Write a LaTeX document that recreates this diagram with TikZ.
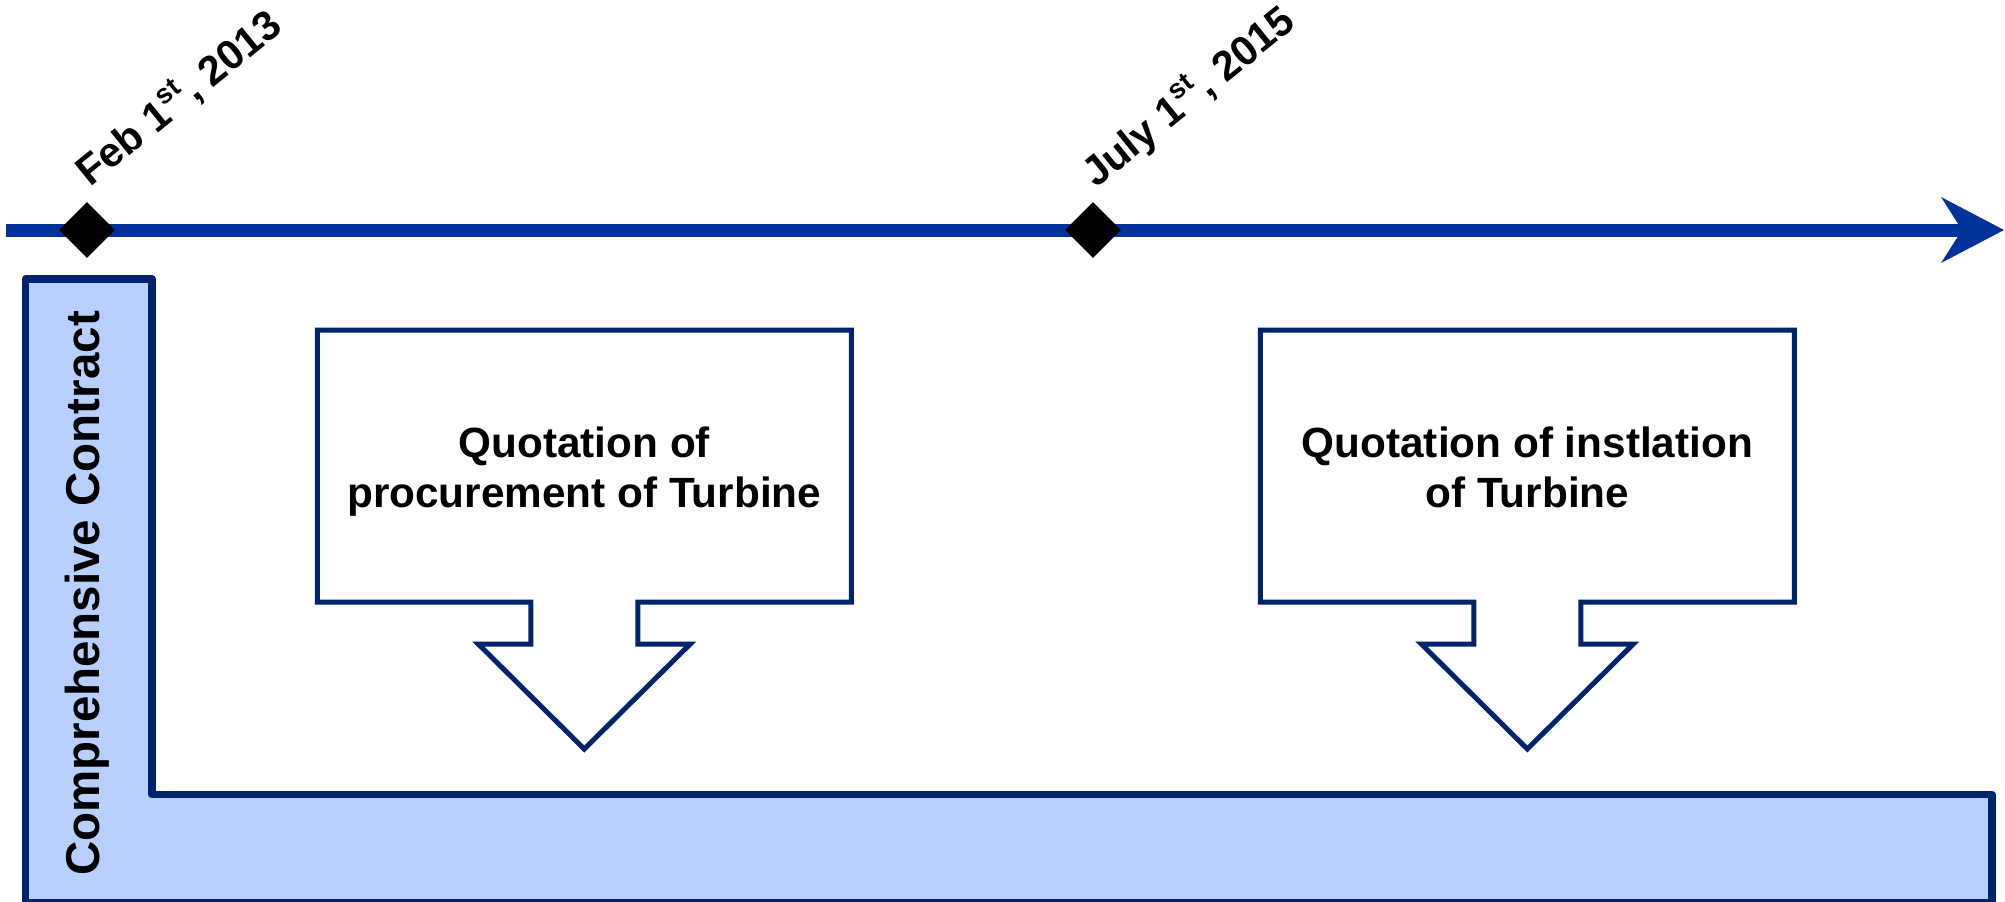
\documentclass[tikz,border=0pt]{standalone}
\usepackage{fontspec}
\setmainfont{Liberation Sans}
\usetikzlibrary{shapes.geometric}
\definecolor{tlblue}{HTML}{003399}
\definecolor{navy}{HTML}{00236E}
\definecolor{lightfill}{HTML}{B9CFFD}
\newcommand{\ordsup}[1]{\raisebox{0.42em}{\fontsize{27.5}{30}\selectfont #1}}
\begin{document}
\begin{tikzpicture}[x=1pt,y=-1pt,
  datelbl/.style={font=\fontsize{41.5}{48}\selectfont\bfseries, inner sep=0, rotate=39, anchor=base west},
  boxtext/.style={font=\fontsize{42.3}{50}\selectfont\bfseries, inner sep=0, anchor=base},
  vlabel/.style={font=\fontsize{47.5}{56}\selectfont\bfseries, inner sep=0, rotate=90, anchor=base},
  milestone/.style={diamond, fill=black, minimum width=56, minimum height=56, inner sep=0},
  callout/.pic={
    \draw[navy, line width=5, fill=white]
      (-267,330) -- (267,330) -- (267,602) -- (53.5,602) -- (53.5,644) -- (106,644)
      -- (0,749) -- (-106,644) -- (-53.5,644) -- (-53.5,602) -- (-267,602) -- cycle;
  }]
\useasboundingbox (0,0) rectangle (2005,902);

% Comprehensive contract L-shape
\draw[navy, line width=7.7, fill=lightfill, line join=round]
  (25.5,279) -- (152,279) -- (152,794.5) -- (1992,794.5) -- (1992,903) -- (25.5,903) -- cycle;
\node[vlabel] (cc) at (99,593.5) {Comprehensive Contract};

% timeline
\coordinate (tlstart) at (6,230);
\coordinate (tlend) at (1962,230);
\coordinate (tltip) at (2004,230);
\coordinate (barbtop) at (1941,197);
\coordinate (barbbot) at (1941,263);
\draw[tlblue, line width=13] (tlstart) -- (tlend);
\fill[tlblue] (tltip) -- (barbtop) -- (tlend) -- (barbbot) -- cycle;

% milestones
\node[milestone] (m1) at (87,230) {};
\node[milestone] (m2) at (1093,230) {};
\node[datelbl] (l1) at (90,188) {Feb 1\ordsup{st}\hspace{0.05em}, 2013};
\node[datelbl] (l2) at (1096,189) {July 1\ordsup{st}\hspace{0.05em}, 2015};

% callouts
\pic (c1) at (584.25,0) {callout};
\pic (c2) at (1527.3,0) {callout};
\node[boxtext] (t1) at (584.25,457) {\setlength\tabcolsep{0pt}\begin{tabular}[t]{c}Quotation of\\procurement of Turbine\end{tabular}};
\node[boxtext] (t2) at (1527.3,457) {\setlength\tabcolsep{0pt}\begin{tabular}[t]{c}Quotation of instlation\\of Turbine\end{tabular}};
\end{tikzpicture}
\end{document}
